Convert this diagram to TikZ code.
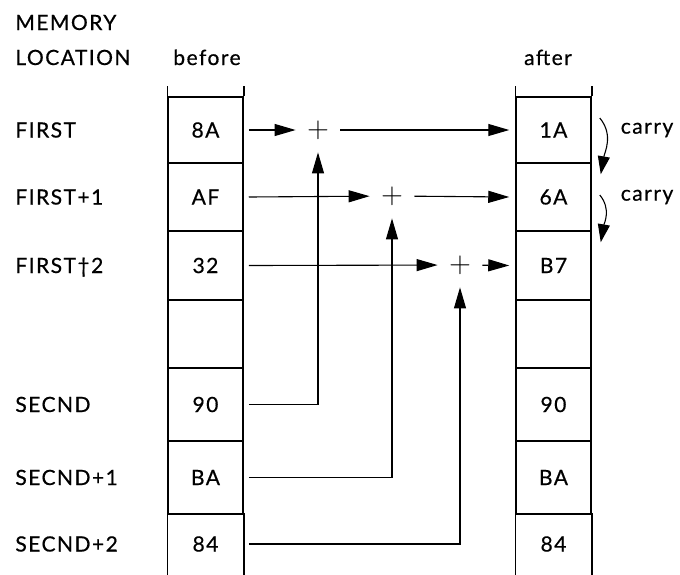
\documentclass[tikz,border=0pt]{standalone}
\usepackage{fontspec}
\setmainfont{Lato}[LetterSpace=7, FakeBold=0.6]
\usetikzlibrary{arrows.meta,positioning}

\tikzset{
  cell/.style={draw, line width=0.75pt, minimum width=37.5pt, inner sep=0pt},
  rowlabel/.style={anchor=west, inner sep=0pt, text height=7.5pt, text depth=0pt},
  sum/.style={circle, minimum size=22pt, inner sep=0pt, font=\fontsize{14}{14}\selectfont},
  flow/.style={line width=0.55pt, -{Triangle[length=10.5pt,width=6pt]}},
  carryflow/.style={line width=0.55pt, -{Triangle[length=9pt,width=6pt]}},
}

\begin{document}
\begin{tikzpicture}[x=0.5pt, y=-0.5pt, font=\fontsize{10.5}{12}\selectfont]
\useasboundingbox (0,0) rectangle (680,574);

% headings
\node[anchor=base west, inner sep=0pt] (memory) at (15,30) {MEMORY};
\node[anchor=base west, inner sep=0pt] (location) at (15,65) {LOCATION};
\node[anchor=base, inner sep=0pt] (before) at (207,65) {before};
\node[anchor=base, inner sep=0pt] (after) at (548,65) {after};

% memory cells, before and after
\foreach \r/\t/\u/\old/\new in {1/97/163/8A/1A, 2/163/231/AF/6A, 3/231/300/32/B7,
    4/300/368/{}/{}, 5/368/441/90/90, 6/441/514/BA/BA} {
  \node[cell, minimum height={(\u-\t)*0.5pt}] (b\r) at (205.5,{(\t+\u)/2}) {\old};
  \node[cell, minimum height={(\u-\t)*0.5pt}] (a\r) at (553.5,{(\t+\u)/2}) {\new};
}
\node[cell, draw=none, minimum height=30pt] (b7) at (205.5,544) {84};
\node[cell, draw=none, minimum height=30pt] (a7) at (553.5,544) {84};
\foreach \c in {b,a} {
  \draw[line width=0.75pt] (\c1.north west) -- ++(0,-10);
  \draw[line width=0.75pt] (\c1.north east) -- ++(0,-10);
  \draw[line width=0.75pt] (\c7.north west) -- (\c7.south west);
  \draw[line width=0.75pt] (\c7.north east) -- (\c7.south east);
}

% location names
\foreach \r/\txt in {1/FIRST, 2/FIRST+1, 3/FIRST\dag 2, 5/SECND, 6/SECND+1, 7/SECND+2}
  \node[rowlabel] (l\r) at (15,0 |- b\r) {\txt};

% adders
\node[sum] (s1) at (318,130) {$+$};
\node[sum] (s2) at (392,196) {$+$};
\node[sum] (s3) at (460,265) {$+$};

\foreach \r in {1,2,3} {
  \draw[flow] ([xshift=2.5pt]b\r.east) -- (s\r);
  \draw[flow] (s\r) -- ([xshift=-3pt]a\r.west);
}
\draw[flow] ([xshift=2.5pt]b5.east) -| (s1);
\draw[flow] ([xshift=2.5pt]b6.east) -| (s2);
\draw[flow] ([xshift=2.5pt]b7.east) -| (s3);

% carries
\draw[carryflow] ([shift={(4pt,6pt)}]a1.east) to[out=-50, in=80] ([shift={(4.5pt,-6pt)}]a2.north east);
\draw[carryflow] ([shift={(4pt,1pt)}]a2.east) to[out=-50, in=80] ([shift={(4.5pt,-6pt)}]a3.north east);
\node[right=11pt of a1] (carry1) {carry};
\node[right=11pt of a2] (carry2) {carry};
\end{tikzpicture}
\end{document}
